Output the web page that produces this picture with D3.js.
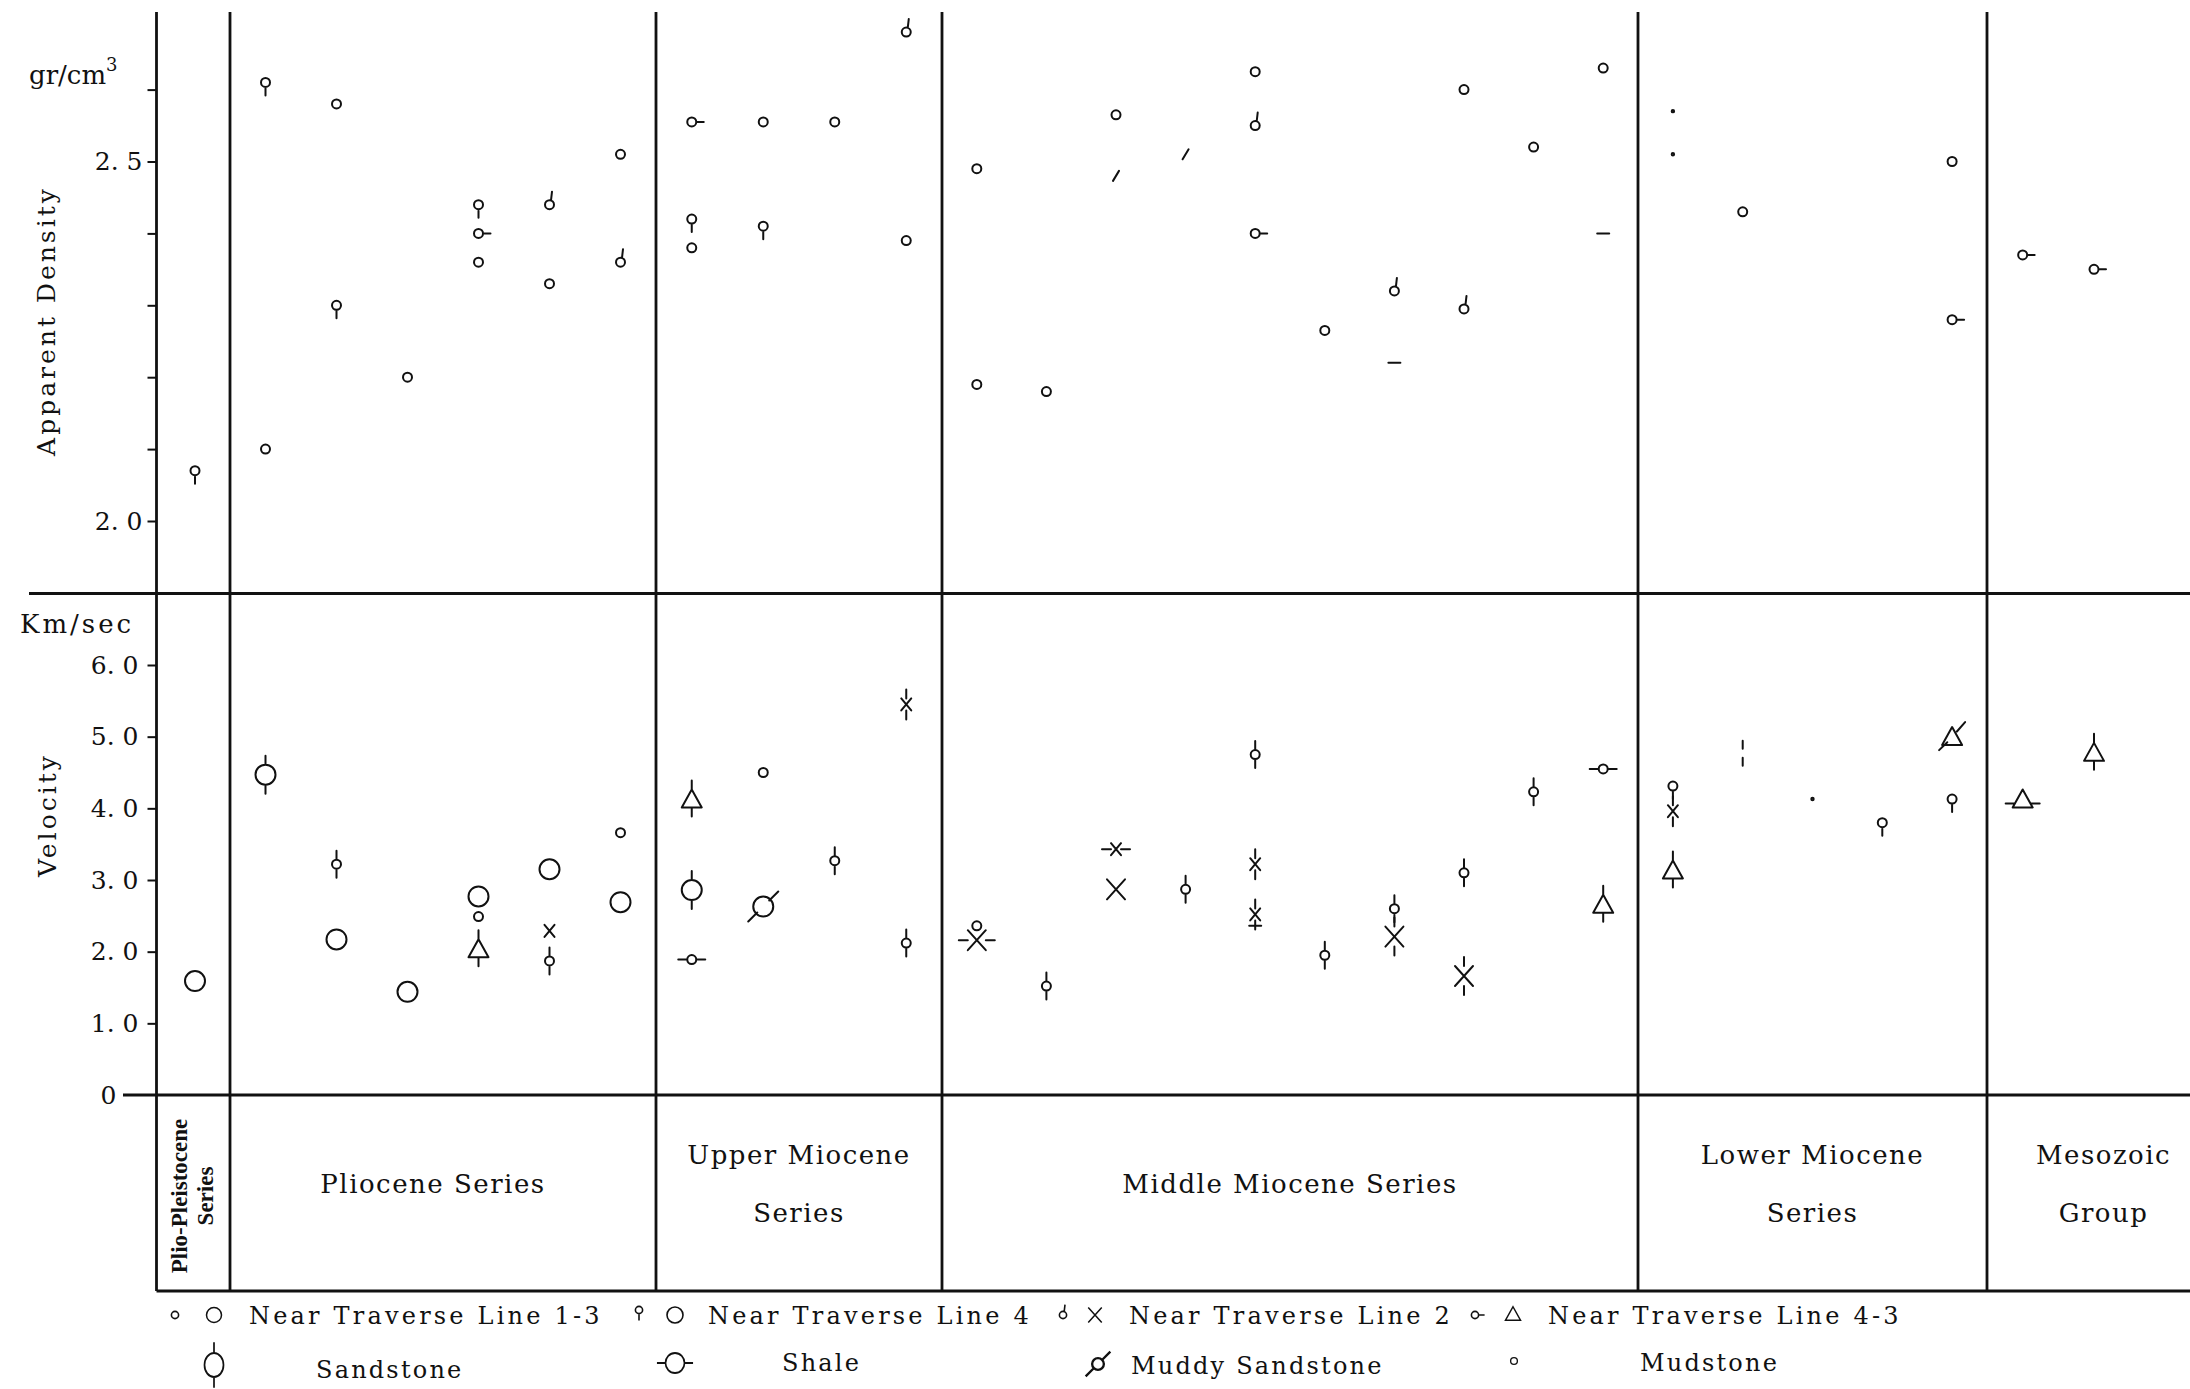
<!DOCTYPE html>
<html>
<head>
<meta charset="utf-8">
<script src="https://cdn.jsdelivr.net/npm/d3@7"></script>
<style>
  body { margin: 0; background: #fff; }
  svg { display: block; }
  text { font-family: "DejaVu Serif", serif; fill: #111; }
</style>
</head>
<body>
<div id="chart"></div>
<script>
let width = 2190
let height = 1389

//BEGIN: DATA
// samples are numbered 0..27 from left to right
const seriesLines = [["Plio-Pleistocene", "Series"], ["Pliocene Series"], ["Upper Miocene", "Series"],
                     ["Middle Miocene Series"], ["Lower Miocene", "Series"], ["Mesozoic", "Group"]]
const seriesLastSample = [0, 6, 10, 20, 25, 27]

const densityTicks = [2.0, 2.1, 2.2, 2.3, 2.4, 2.5, 2.6]
const densityLabelled = [2.0, 2.5]
const velocityTicks = [0, 1, 2, 3, 4, 5, 6]

// mark codes: o small circle, q tail down (line 4), d stem up (line 2), r stub right (line 4-3)
//             O big circle, X cross (line 2), T triangle (line 4-3)
//             s sandstone ticks, h shale ticks, m muddy sandstone slash
const densityPoints = [
  [0, 2.07, "q"],
  [1, 2.61, "q"], [1, 2.10, "o"],
  [2, 2.58, "o"], [2, 2.30, "q"],
  [3, 2.20, "o"],
  [4, 2.44, "q"], [4, 2.40, "r"], [4, 2.36, "o"],
  [5, 2.44, "d"], [5, 2.33, "o"],
  [6, 2.51, "o"], [6, 2.36, "d"],
  [7, 2.555, "r"], [7, 2.42, "q"], [7, 2.38, "o"],
  [8, 2.555, "o"], [8, 2.41, "q"],
  [9, 2.555, "o"],
  [10, 2.68, "d"], [10, 2.39, "o"],
  [11, 2.49, "o"], [11, 2.19, "o"],
  [12, 2.18, "o"],
  [13, 2.565, "o"], [13, 2.48, "/"],
  [14, 2.51, "/"],
  [15, 2.625, "o"], [15, 2.55, "d"], [15, 2.40, "r"],
  [16, 2.265, "o"],
  [17, 2.32, "d"], [17, 2.22, "-"],
  [18, 2.60, "o"], [18, 2.295, "d"],
  [19, 2.52, "o"],
  [20, 2.63, "o"], [20, 2.40, "-"],
  [21, 2.57, "."], [21, 2.51, "."],
  [22, 2.43, "o"],
  [25, 2.50, "o"], [25, 2.28, "r"],
  [26, 2.37, "r"],
  [27, 2.35, "r"]
]

const velocityPoints = [
  [0, 1.59, "O"],
  [1, 4.47, "Os"],
  [2, 3.22, "os"], [2, 2.17, "O"],
  [3, 1.44, "O"],
  [4, 2.77, "O"], [4, 2.49, "o"], [4, 2.02, "Ts"],
  [5, 3.15, "O"], [5, 2.29, "x"], [5, 1.87, "os"],
  [6, 3.66, "o"], [6, 2.69, "O"],
  [7, 4.11, "Ts"], [7, 2.86, "Os"], [7, 1.89, "oh"],
  [8, 4.50, "o"], [8, 2.63, "Om"],
  [9, 3.27, "os"],
  [10, 5.45, "xs"], [10, 2.12, "os"],
  [11, 2.36, "o"], [11, 2.16, "Xh"],
  [12, 1.52, "os"],
  [13, 3.43, "xh"], [13, 2.87, "X"],
  [14, 2.87, "os"],
  [15, 4.75, "os"], [15, 3.22, "xs"], [15, 2.52, "xs"], [15, 2.36, "-"],
  [16, 1.95, "os"],
  [17, 2.60, "os"], [17, 2.21, "Xs"],
  [18, 3.10, "os"], [18, 1.66, "Xs"],
  [19, 4.23, "os"],
  [20, 4.55, "oh"], [20, 2.64, "Ts"],
  [21, 4.31, "q"], [21, 3.96, "xs"], [21, 3.12, "Ts"],
  [22, 4.76, "|"],
  [23, 4.13, "."],
  [24, 3.80, "q"],
  [25, 4.98, "Tm"], [25, 4.13, "q"],
  [26, 4.11, "Th"],
  [27, 4.76, "Ts"]
]

const traverseLabels = ["Near Traverse Line 1-3", "Near Traverse Line 4", "Near Traverse Line 2", "Near Traverse Line 4-3"]
const traverseDensityMarks = ["o", "q", "d", "r"]
const traverseVelocityMarks = ["O", "O", "X", "T"]
const lithologyLabels = ["Sandstone", "Shale", "Muddy Sandstone", "Mudstone"]
const lithologyMarks = ["Os", "Oh", "om", "o"]
//END: DATA


//BEGIN: MARKS
const circ = (rx, ry = rx) => `M${-rx},0a${rx},${ry} 0 1,0 ${2*rx},0a${rx},${ry} 0 1,0 ${-2*rx},0`
const seg = (x1, y1, x2, y2) => `M${x1},${y1}L${x2},${y2}`

const glyph = (code) => {
  let base = code[0]
  let deco = code.slice(1)
  let p = ""
  let e = {t: 0, b: 0, l: 0, r: 0, hy: 0}   // extents used for the lithology ticks
  switch (base) {
    case "O": p = circ(10); e = {t: 10, b: 10, l: 10, r: 10, hy: 0}; break
    case "o": p = circ(4.5); e = {t: 4.5, b: 4.5, l: 4.5, r: 4.5, hy: 0}; break
    case "X": p = seg(-9, -10, 9, 10) + seg(-9, 10, 9, -10); e = {t: 10, b: 10, l: 9, r: 9, hy: 0}; break
    case "x": p = seg(-5, -6, 5, 6) + seg(-5, 6, 5, -6); e = {t: 6, b: 6, l: 5, r: 5, hy: 0}; break
    case "T": p = "M0,-11L10,7L-10,7Z"; e = {t: 11, b: 7, l: 8, r: 8, hy: 3}; break
    case "q": p = circ(4.5) + seg(0, 4.5, 0, 13); break
    case "d": p = circ(4.5) + seg(1.5, -4.3, 2.5, -13); break
    case "r": p = circ(4.5) + seg(4.5, 0, 12, 0); break
    case "/": p = seg(-3, 5, 3, -5); break
    case "-": p = seg(-6, 0, 6, 0); break
    case "|": p = seg(0, -13, 0, -5) + seg(0, 4, 0, 12); break
    case ".": p = circ(1.2); break
  }
  if (deco.includes("s")) p += seg(0, -e.t - 9, 0, -e.t) + seg(0, e.b, 0, e.b + 9)
  if (deco.includes("h")) p += seg(-e.l - 9, e.hy, -e.l, e.hy) + seg(e.r, e.hy, e.r + 9, e.hy)
  if (deco.includes("m")) p += seg(-e.l - 5, e.b + 5, -e.l * 0.6, e.b * 0.6) + seg(e.r * 0.6, -e.t * 0.6, e.r + 5, -e.t - 5)
  return p
}
//END: MARKS


//BEGIN: VISUALIZATION
const svg = d3.select("#chart").append("svg").attr("width", width).attr("height", height)
svg.append("rect").attr("width", width).attr("height", height).attr("fill", "#fff")

// the hand drawn columns are not evenly spaced, so the sample scale is piecewise
const x = d3.scaleLinear()
  .domain([0, 0.5, 6.5, 10.5, 20.5, 25.5, 27])
  .range([195, 230, 656, 942, 1638, 1987, 2094])
const yD = d3.scaleLinear().domain([2.0, 2.5]).range([521, 161.5])
const yV = d3.scaleLinear().domain([0, 6]).range([1095, 665])

let axisX = 156.5
let frameTop = 12
let frameBottom = 1291
let frameRight = 2220
let splitY = 593.5

// frame
const frame = svg.append("g").attr("stroke", "#111").attr("stroke-width", 2.8).attr("fill", "none")
frame.append("line").attr("x1", axisX).attr("x2", axisX).attr("y1", frameTop).attr("y2", frameBottom)
seriesLastSample.slice(0, -1).forEach(s => {
  frame.append("line").attr("x1", x(s + 0.5)).attr("x2", x(s + 0.5)).attr("y1", frameTop).attr("y2", frameBottom)
})
frame.append("line").attr("x1", 29).attr("x2", width).attr("y1", splitY).attr("y2", splitY)
frame.append("line").attr("x1", 123).attr("x2", width).attr("y1", yV(0)).attr("y2", yV(0))
frame.append("line").attr("x1", axisX).attr("x2", width).attr("y1", frameBottom).attr("y2", frameBottom)

// axes
const fmt = d => d ? d.toFixed(1).replace(".", ". ") : "0"

const dAxis = svg.append("g").attr("transform", `translate(${axisX},0)`)
  .call(d3.axisLeft(yD).tickValues(densityTicks).tickSizeInner(9).tickSizeOuter(0).tickPadding(5)
    .tickFormat(d => densityLabelled.some(v => Math.abs(v - d) < 1e-6) ? fmt(d) : ""))
const vAxis = svg.append("g").attr("transform", `translate(${axisX},0)`)
  .call(d3.axisLeft(yV).tickValues(velocityTicks).tickSizeInner(9).tickSizeOuter(0).tickPadding(9).tickFormat(fmt))

;[dAxis, vAxis].forEach(a => {
  a.select(".domain").remove()
  a.selectAll(".tick line").attr("stroke", "#111").attr("stroke-width", 2)
  a.selectAll(".tick text").attr("font-size", 25).attr("fill", "#111")
})
vAxis.selectAll(".tick").filter(d => d === 0).select("text").attr("x", -40)
vAxis.selectAll(".tick").filter(d => d === 0).select("line").remove()

// axis titles
let gr = svg.append("text").attr("x", 29).attr("y", 84).attr("font-size", 26).text("gr/cm")
gr.append("tspan").attr("font-size", 18).attr("dy", -13).text("3")
svg.append("text").attr("transform", "translate(55,321) rotate(-90)").attr("text-anchor", "middle")
  .attr("font-size", 25).attr("letter-spacing", 3).text("Apparent Density")
svg.append("text").attr("x", 20).attr("y", 633).attr("font-size", 26).attr("letter-spacing", 3).text("Km/sec")
svg.append("text").attr("transform", "translate(56,815) rotate(-90)").attr("text-anchor", "middle")
  .attr("font-size", 25).attr("letter-spacing", 3).text("Velocity")

// points
const marks = svg.append("g").attr("fill", "none").attr("stroke", "#111").attr("stroke-width", 2)
  .attr("stroke-linecap", "round").attr("stroke-linejoin", "round")

marks.selectAll("path.density").data(densityPoints).join("path").attr("class", "density")
  .attr("transform", d => `translate(${x(d[0])},${yD(d[1])})`)
  .attr("d", d => glyph(d[2]))

marks.selectAll("path.velocity").data(velocityPoints).join("path").attr("class", "velocity")
  .attr("transform", d => `translate(${x(d[0])},${yV(d[1])})`)
  .attr("d", d => glyph(d[2]))

// series names in the bottom box
let boxMid = (yV(0) + frameBottom) / 2
seriesLines.forEach((lines, i) => {
  let left = i ? x(seriesLastSample[i - 1] + 0.5) : axisX
  let right = i < seriesLastSample.length - 1 ? x(seriesLastSample[i] + 0.5) : frameRight
  let cx = (left + right) / 2
  if (i === 0) {
    lines.forEach((t, j) => {
      svg.append("text").attr("transform", `translate(${cx - 6 + j * 26},${boxMid + 3}) rotate(-90)`)
        .attr("text-anchor", "middle").style("font-family", "'Liberation Serif', serif").attr("font-weight", "bold")
        .attr("font-size", 23).text(t)
    })
  } else {
    let base = lines.length === 1 ? [1193] : [1164, 1222]
    lines.forEach((t, j) => {
      svg.append("text").attr("x", cx - (i === 1 ? 10 : 0)).attr("y", base[j]).attr("text-anchor", "middle")
        .attr("font-size", 26).attr("letter-spacing", 1.5).text(t)
    })
  }
})
//END: VISUALIZATION


//BEGIN: LEGEND
let legendMarkX = [175, 639, 1063, 1475]
let legendBigX = [214, 675, 1095, 1513]
let legendTextX = [249, 708, 1129, 1548]
const legend = svg.append("g")

traverseLabels.forEach((t, i) => {
  legend.append("path").attr("transform", `translate(${legendMarkX[i]},${i === 1 ? 1310 : 1315}) scale(0.8)`)
    .attr("d", glyph(traverseDensityMarks[i])).attr("fill", "none").attr("stroke", "#111").attr("stroke-width", 2)
  legend.append("path").attr("transform", `translate(${legendBigX[i]},1315) scale(${i === 1 ? 0.8 : 0.75})`)
    .attr("d", glyph(traverseVelocityMarks[i])).attr("fill", "none").attr("stroke", "#111").attr("stroke-width", 2)
  legend.append("text").attr("x", legendTextX[i]).attr("y", 1324).attr("font-size", 24)
    .attr("letter-spacing", 3.2).text(t)
})

let lithMarkX = [214, 675, 1098, 1514]
let lithMarkY = [1365, 1363, 1364, 1361]
let lithMarkScale = ["0.95,1.2", "0.95,1", "1.3,1.3", "0.75,0.75"]
let lithTextX = [316, 782, 1131, 1640]
let lithTextY = [1378, 1371, 1374, 1371]

lithologyLabels.forEach((t, i) => {
  legend.append("path").attr("transform", `translate(${lithMarkX[i]},${lithMarkY[i]}) scale(${lithMarkScale[i]})`)
    .attr("d", glyph(lithologyMarks[i])).attr("fill", "none").attr("stroke", "#111").attr("stroke-width", 1.8)
  legend.append("text").attr("x", lithTextX[i]).attr("y", lithTextY[i]).attr("font-size", 24)
    .attr("letter-spacing", 2.2).text(t)
})
//END: LEGEND
</script>
</body>
</html>
